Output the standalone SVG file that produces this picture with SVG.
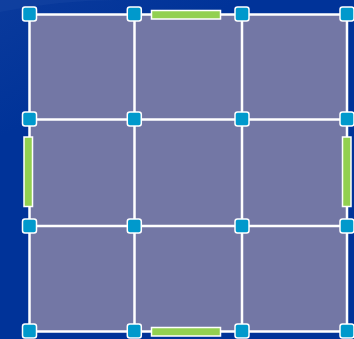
<svg xmlns="http://www.w3.org/2000/svg" width="354" height="339" viewBox="0 0 354 339">
<defs>
<style>
.cell{fill:#7377a5;}
.edge{stroke:#ffffff;stroke-width:2.5;fill:none;}
.node{fill:#0099cc;stroke:#ffffff;stroke-width:1.5;}
.bar{fill:#92d050;stroke:#ffffff;stroke-width:1.5;}
</style>
<linearGradient id="bg" x1="0" y1="0" x2="0.6" y2="1">
<stop offset="0" stop-color="#0a3a9c"/>
<stop offset="0.3" stop-color="#003399"/>
<stop offset="1" stop-color="#003399"/>
</linearGradient>
</defs>
<rect x="0" y="0" width="354" height="339" fill="url(#bg)"/>
<path d="M0 12 Q60 0 120 0 L0 0 Z" fill="#1d4aa6" opacity="0.35"/>
<rect class="cell" x="29.5" y="14.5" width="317.5" height="317"/>
<g id="connectors">
<path class="edge" d="M29.5 14.5H347M29.5 119.5H347M29.5 226H347M29.5 331.5H347M29.5 14.5V331.5M134.5 14.5V331.5M242 14.5V331.5M347 14.5V331.5"/>
</g>
<g id="bars">
<rect id="bar-top" class="bar" x="151.5" y="10.5" width="69" height="8.5"/>
<rect id="bar-bottom" class="bar" x="151.5" y="327.5" width="69" height="8.5"/>
<rect id="bar-left" class="bar" x="24" y="137" width="8.5" height="69.5"/>
<rect id="bar-right" class="bar" x="342.5" y="137" width="8.5" height="69.5"/>
</g>
<g id="n00"><rect class="node" x="22.5" y="7" width="14" height="14" rx="2.5"/></g>
<g id="n01"><rect class="node" x="127.3" y="7" width="14" height="14" rx="2.5"/></g>
<g id="n02"><rect class="node" x="235" y="7" width="14" height="14" rx="2.5"/></g>
<g id="n03"><rect class="node" x="340" y="7" width="14" height="14" rx="2.5"/></g>
<g id="n10"><rect class="node" x="22.5" y="112" width="14" height="14" rx="2.5"/></g>
<g id="n11"><rect class="node" x="127.3" y="112" width="14" height="14" rx="2.5"/></g>
<g id="n12"><rect class="node" x="235" y="112" width="14" height="14" rx="2.5"/></g>
<g id="n13"><rect class="node" x="340" y="112" width="14" height="14" rx="2.5"/></g>
<g id="n20"><rect class="node" x="22.5" y="219" width="14" height="14" rx="2.5"/></g>
<g id="n21"><rect class="node" x="127.3" y="219" width="14" height="14" rx="2.5"/></g>
<g id="n22"><rect class="node" x="235" y="219" width="14" height="14" rx="2.5"/></g>
<g id="n23"><rect class="node" x="340" y="219" width="14" height="14" rx="2.5"/></g>
<g id="n30"><rect class="node" x="22.5" y="324" width="14" height="14" rx="2.5"/></g>
<g id="n31"><rect class="node" x="127.3" y="324" width="14" height="14" rx="2.5"/></g>
<g id="n32"><rect class="node" x="235" y="324" width="14" height="14" rx="2.5"/></g>
<g id="n33"><rect class="node" x="340" y="324" width="14" height="14" rx="2.5"/></g>
</svg>
